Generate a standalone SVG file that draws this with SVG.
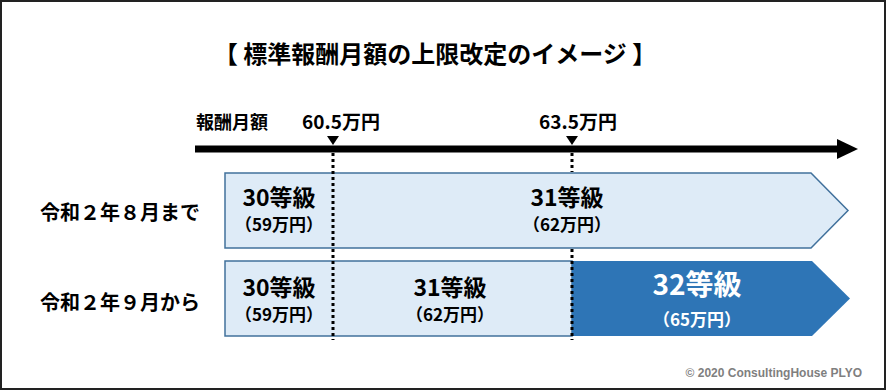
<svg xmlns="http://www.w3.org/2000/svg" width="886" height="390" viewBox="0 0 886 390">
<defs>
<style>
text{font-family:"Noto Sans CJK JP","Noto Sans",sans-serif;font-weight:bold;fill:#000}
.lbl{font-size:20px;text-anchor:middle}
.g{font-size:23px;text-anchor:middle}
.s{font-size:17px;text-anchor:middle}
.w{fill:#fff}
.light{fill:#DEEBF7;stroke:#41719C;stroke-width:1.5}
.dot{stroke:#000;stroke-width:3;stroke-dasharray:3 3;fill:none}
</style>
</defs>
<rect x="1" y="1" width="884" height="388" fill="#fff" stroke="#222" stroke-width="2"/>
<g id="title"><text x="435" y="63" style="font-size:24px" text-anchor="middle">【 標準報酬月額の上限改定のイメージ 】</text></g>
<g id="axis">
<text x="196" y="129" style="font-size:18px">報酬月額</text>
<text x="341" y="129" style="font-size:19px" text-anchor="middle">60.5万円</text>
<text x="578" y="129" style="font-size:19px" text-anchor="middle">63.5万円</text>
<rect x="195" y="145.5" width="644" height="7" fill="#000"/>
<polygon points="837,139 858,149 837,159" fill="#000"/>
<polygon points="327,136 339,136 333,145" fill="#000"/>
<polygon points="566,136 578,136 572,145" fill="#000"/>
</g>
<g id="row1">
<text x="120" y="220" class="lbl">令和２年８月まで</text>
<polygon class="light" points="225,173 811,173 848,210.5 811,248 225,248"/>
<text x="279" y="206" class="g">30等級</text>
<text x="279" y="231" class="s">（59万円）</text>
<text x="567" y="206" class="g">31等級</text>
<text x="567" y="231" class="s">（62万円）</text>
</g>
<g id="row2">
<text x="120" y="310" class="lbl">令和２年９月から</text>
<polygon class="light" points="225,261 572,261 572,336 225,336"/>
<polygon points="572,261 812,261 850,298.5 812,336 572,336" fill="#2E75B6"/>
<text x="279" y="296" class="g">30等級</text>
<text x="279" y="321" class="s">（59万円）</text>
<text x="450" y="296" class="g">31等級</text>
<text x="450" y="321" class="s">（62万円）</text>
<text x="697" y="295" class="w" style="font-size:28px" text-anchor="middle">32等級</text>
<text x="697" y="326" class="w" style="font-size:17px" text-anchor="middle">（65万円）</text>
</g>
<g id="connectors">
<line class="dot" x1="333" y1="153" x2="333" y2="340"/>
<line class="dot" x1="572" y1="153" x2="572" y2="172"/>
<line class="dot" x1="572" y1="249" x2="572" y2="340"/>
</g>
<text x="862" y="377" style="font-family:'Liberation Sans',Arial,sans-serif;font-size:12px;fill:#7f7f7f" text-anchor="end">© 2020 ConsultingHouse PLYO</text>
</svg>
